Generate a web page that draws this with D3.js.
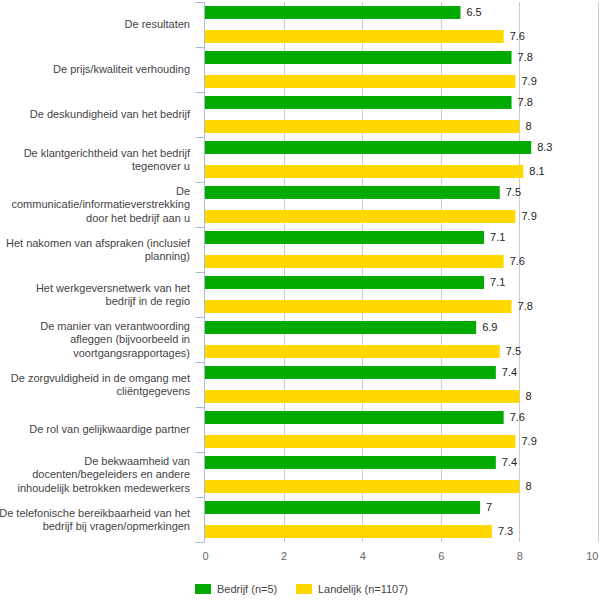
<html>
<head>
  <title>Tevredenheid bar chart</title>
  <script src="https://cdnjs.cloudflare.com/ajax/libs/d3/7.8.5/d3.min.js" charset="utf-8"></script>
  <style>
    body { margin: 0; background: #fff; }
    text { font-family: "Liberation Sans", Arial, sans-serif; }
  </style>
</head>
<body>
<svg class="chart"></svg>
<script type="text/javascript">
  // categories, lines split as in the original
  var categories = [
    "De resultaten",
    "De prijs/kwaliteit verhouding",
    "De deskundigheid van het bedrijf",
    "De klantgerichtheid van het bedrijf\ntegenover u",
    "De\ncommunicatie/informatieverstrekking\ndoor het bedrijf aan u",
    "Het nakomen van afspraken (inclusief\nplanning)",
    "Het werkgeversnetwerk van het\nbedrijf in de regio",
    "De manier van verantwoording\nafleggen (bijvoorbeeld in\nvoortgangsrapportages)",
    "De zorgvuldigheid in de omgang met\ncliëntgegevens",
    "De rol van gelijkwaardige partner",
    "De bekwaamheid van\ndocenten/begeleiders en andere\ninhoudelijk betrokken medewerkers",
    "De telefonische bereikbaarheid van het\nbedrijf bij vragen/opmerkingen"
  ];
  var bedrijf   = [6.5, 7.8, 7.8, 8.3, 7.5, 7.1, 7.1, 6.9, 7.4, 7.6, 7.4, 7.0];
  var landelijk = [7.6, 7.9, 8.0, 8.1, 7.9, 7.6, 7.8, 7.5, 8.0, 7.9, 8.0, 7.3];
  var seriesNames = ["Bedrijf (n=5)", "Landelijk (n=1107)"];
  var seriesColors = ["#00aa00", "#ffd800"];
  var xTicks = [0, 2, 4, 6, 8, 10];

  var width = 600, height = 604;
  var svg = d3.select(".chart").attr("width", width).attr("height", height);

  var x = d3.scaleLinear().domain([0, 10]).range([205, 598]);
  var y = d3.scaleBand().domain(d3.range(categories.length)).range([2, 542]).padding(0);
  var ySub = d3.scaleBand().domain([0, 1]).range([4, 41]).paddingInner(0.46);

  // gridlines
  svg.append("g").selectAll("line")
     .data(xTicks.filter(function(d){ return d > 0; }))
     .enter().append("line")
     .attr("x1", function(d){ return Math.round(x(d)) + 0.5; })
     .attr("x2", function(d){ return Math.round(x(d)) + 0.5; })
     .attr("y1", 2).attr("y2", 542)
     .attr("stroke", "#cccccc");

  // bars
  var groups = svg.append("g").selectAll("g")
     .data(categories)
     .enter().append("g")
     .attr("transform", function(d, i){ return "translate(0," + y(i) + ")"; });

  [bedrijf, landelijk].forEach(function(series, s) {
    groups.append("rect")
      .attr("x", x(0))
      .attr("y", ySub(s))
      .attr("width", function(d, i){ return x(series[i]) - x(0); })
      .attr("height", ySub.bandwidth())
      .attr("fill", seriesColors[s]);
    groups.append("text")
      .attr("x", function(d, i){ return x(series[i]) + 6; })
      .attr("y", ySub(s) + ySub.bandwidth() / 2)
      .attr("dy", "0.35em")
      .attr("font-size", 11)
      .attr("fill", "#222")
      .text(function(d, i){ return series[i]; });
  });

  // category labels
  groups.append("text")
    .attr("text-anchor", "end")
    .attr("font-size", 11)
    .attr("fill", "#444")
    .each(function(d) {
      var lines = d.split("\n");
      var lh = 13.5;
      var top = y.bandwidth() / 2 - (lines.length - 1) * lh / 2;
      var t = d3.select(this);
      lines.forEach(function(l, k) {
        t.append("tspan").attr("x", 190).attr("y", top + k * lh).attr("dy", "0.35em").text(l);
      });
    });

  // left axis
  var yAxis = d3.axisLeft(d3.scaleLinear().domain([0, categories.length]).range([2, 542]))
                .ticks(categories.length).tickSize(9).tickFormat("");
  var ga = svg.append("g").attr("transform", "translate(" + (x(0) - 0.5) + ",0)").call(yAxis);
  ga.selectAll("line, path").attr("stroke", "#aabbd6");
  ga.select(".domain").attr("d", "M-9,2.5H0V542.5H-9");

  // bottom tick labels
  var xAxis = d3.axisBottom(x).tickValues(xTicks).tickSize(0).tickPadding(0);
  var gx = svg.append("g").attr("transform", "translate(0,552)").call(xAxis);
  gx.select(".domain").remove();
  gx.selectAll("text").attr("font-size", 11).attr("fill", "#666")
    .attr("font-family", "Liberation Sans, Arial, sans-serif");
  // last label pulled inside the edge, as in the original
  gx.selectAll("text").filter(function(d){ return d === 10; })
    .attr("text-anchor", "end").attr("x", 0);

  // legend
  var lx = [195, 296];
  seriesNames.forEach(function(n, s) {
    svg.append("rect").attr("x", lx[s]).attr("y", 584).attr("width", 16).attr("height", 10)
       .attr("fill", seriesColors[s]);
    svg.append("text").attr("x", lx[s] + 22).attr("y", 589).attr("dy", "0.35em")
       .attr("font-size", 11).attr("fill", "#444").text(n);
  });
</script>
</body>
</html>
